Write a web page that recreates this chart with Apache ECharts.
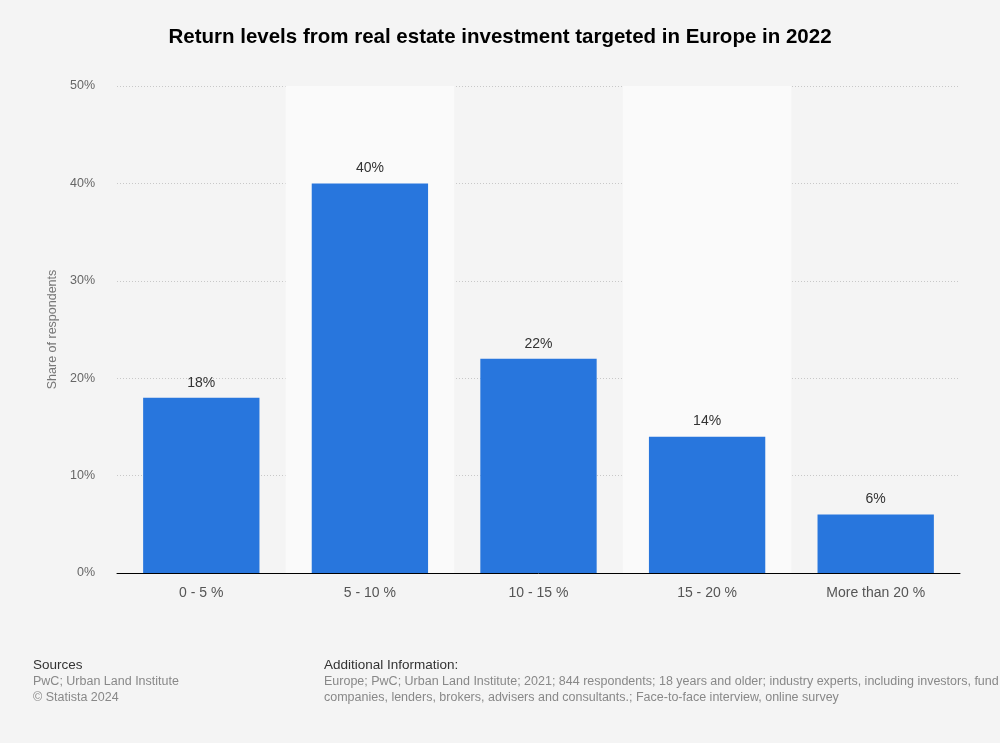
<!DOCTYPE html>
<html><head><meta charset="utf-8">
<script src="https://cdn.jsdelivr.net/npm/echarts@6/dist/echarts.min.js"></script>
<style>html,body{margin:0;padding:0;background:#f4f4f4}#c{width:1000px;height:743px}</style>
</head><body><div id="c"></div>
<script>
const categories = ['0 - 5 %', '5 - 10 %', '10 - 15 %', '15 - 20 %', 'More than 20 %'];
const values = [18, 40, 22, 14, 6];
const yTicks = [0, 10, 20, 30, 40, 50];

const chart = echarts.init(document.getElementById('c'), null, {renderer: 'canvas'});
const F = 'Liberation Sans, Arial, sans-serif';
chart.setOption({
  backgroundColor: '#f4f4f4',
  animation: false,
  textStyle: {fontFamily: F},
  title: {
    text: 'Return levels from real estate investment targeted in Europe in 2022',
    left: 'center', top: 22,
    textStyle: {fontSize: 20.5, fontWeight: 'bold', color: '#000', fontFamily: F}
  },
  grid: {left: 117, right: 40, top: 86, bottom: 170},
  xAxis: {
    type: 'category', data: categories,
    axisLine: {lineStyle: {color: '#000', width: 1}},
    axisTick: {show: false},
    axisLabel: {color: '#555', fontSize: 14, margin: 13, fontFamily: F},
    splitArea: {show: true, areaStyle: {color: ['rgba(0,0,0,0)', '#fafafa']}}
  },
  yAxis: {
    type: 'value', min: yTicks[0], max: yTicks[yTicks.length-1], interval: 10,
    name: 'Share of respondents', nameLocation: 'middle', nameGap: 58, nameRotate: 90,
    nameTextStyle: {color: '#777', fontSize: 12.5, fontFamily: F},
    axisLine: {show: false}, axisTick: {show: false},
    axisLabel: {color: '#666', fontSize: 12.5, margin: 22, formatter: v => v + '%', fontFamily: F},
    splitLine: {lineStyle: {color: '#c8c8c8', type: [1, 2], width: 1}}
  },
  series: [{
    type: 'bar', data: values, barWidth: '69%',
    itemStyle: {color: '#2876dd'},
    label: {show: true, position: 'top', distance: 8, formatter: p => p.value + '%', color: '#333', fontSize: 14, fontFamily: F}
  }],
  graphic: [
    {type: 'text', left: 33, top: 658, style: {text: 'Sources', fill: '#333', font: '13.5px ' + F}},
    {type: 'text', left: 33, top: 675, style: {text: 'PwC; Urban Land Institute', fill: '#888', font: '12.5px ' + F}},
    {type: 'text', left: 33, top: 691, style: {text: '© Statista 2024', fill: '#888', font: '12.5px ' + F}},
    {type: 'text', left: 324, top: 658, style: {text: 'Additional Information:', fill: '#333', font: '13.5px ' + F}},
    {type: 'text', left: 324, top: 675, style: {text: 'Europe; PwC; Urban Land Institute; 2021; 844 respondents; 18 years and older; industry experts, including investors, fund', fill: '#888', font: '12.5px ' + F}},
    {type: 'text', left: 324, top: 691, style: {text: 'companies, lenders, brokers, advisers and consultants.; Face-to-face interview, online survey', fill: '#888', font: '12.5px ' + F}}
  ]
});
</script></body></html>
